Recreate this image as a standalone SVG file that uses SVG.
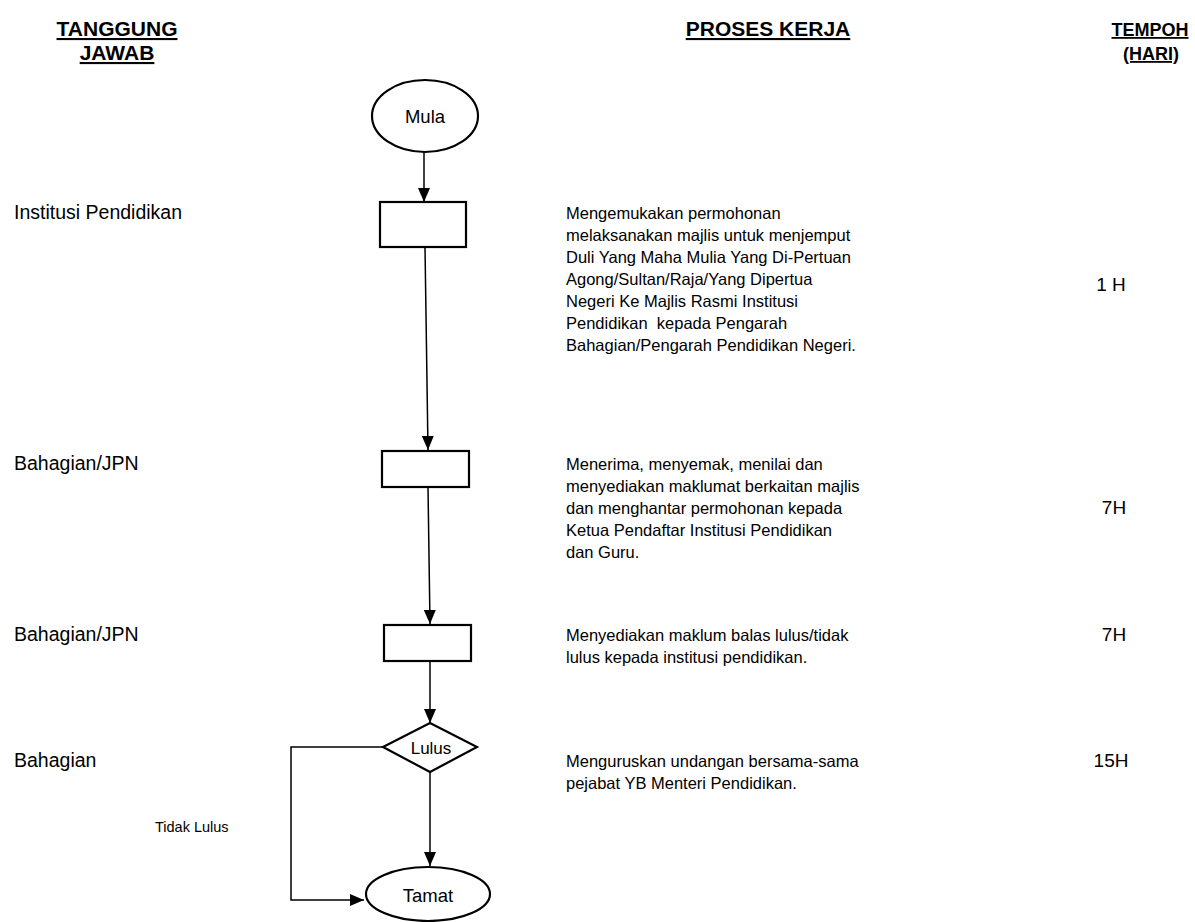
<svg xmlns="http://www.w3.org/2000/svg" width="1195" height="922" viewBox="0 0 1195 922">
<style>
text{font-family:"Liberation Sans",Arial,sans-serif;fill:#000}
.h{font-size:21px;font-weight:bold;text-decoration:underline;text-anchor:middle}
.h2{font-size:18px}
.l{font-size:19.5px}
.b{font-size:16.5px}
.t{font-size:19px;text-anchor:middle}
.s{font-size:14.5px}
.n{font-size:18.5px;text-anchor:middle}
.shape{fill:#fff;stroke:#000;stroke-width:2.2}
.conn{fill:none;stroke:#000;stroke-width:1.5}
</style>
<defs>
<marker id="ah" viewBox="0 0 14 12" refX="14" refY="6" markerWidth="14" markerHeight="12" markerUnits="userSpaceOnUse" orient="auto">
<path d="M0,0 L14,6 L0,12 z" fill="#000"/>
</marker>
</defs>
<rect width="1195" height="922" fill="#fff"/>
<g id="headers">
<text class="h" x="117" y="36">TANGGUNG</text>
<text class="h" x="117" y="60">JAWAB</text>
<text class="h" x="768" y="36">PROSES KERJA</text>
<text class="h h2" x="1150" y="36">TEMPOH</text>
<text class="h h2" x="1151" y="60">(HARI)</text>
</g>
<g id="connectors">
<line class="conn" x1="424" y1="152" x2="424" y2="202" marker-end="url(#ah)"/>
<line class="conn" x1="425" y1="247" x2="428" y2="450" marker-end="url(#ah)"/>
<line class="conn" x1="428" y1="487" x2="430" y2="624" marker-end="url(#ah)"/>
<line class="conn" x1="430" y1="661" x2="430" y2="723" marker-end="url(#ah)"/>
<line class="conn" x1="430" y1="772" x2="430" y2="866" marker-end="url(#ah)"/>
<path class="conn" d="M383,747 H291 V900 H364" marker-end="url(#ah)"/>
</g>
<g id="mula">
<ellipse class="shape" cx="425" cy="116" rx="53" ry="36"/>
<text class="n" x="425" y="123">Mula</text>
</g>
<g id="step1">
<rect class="shape" x="380" y="202" width="86" height="45"/>
</g>
<g id="step2">
<rect class="shape" x="382" y="451" width="87" height="36"/>
</g>
<g id="step3">
<rect class="shape" x="384" y="625" width="87" height="36"/>
</g>
<g id="lulus">
<polygon class="shape" points="383,747 430,723 477,747 430,772"/>
<text style="font-size:17px;text-anchor:middle" x="431" y="754">Lulus</text>
</g>
<g id="tamat">
<ellipse class="shape" cx="428" cy="894" rx="62" ry="27"/>
<text class="n" x="428" y="902">Tamat</text>
</g>
<g id="labels">
<text class="l" x="14" y="219">Institusi Pendidikan</text>
<text class="l" x="14" y="470">Bahagian/JPN</text>
<text class="l" x="14" y="641">Bahagian/JPN</text>
<text class="l" x="14" y="767">Bahagian</text>
<text class="s" x="155" y="832">Tidak Lulus</text>
</g>
<g id="proses">
<text class="b" x="566" y="219">Mengemukakan permohonan</text>
<text class="b" x="566" y="241">melaksanakan majlis untuk menjemput</text>
<text class="b" x="566" y="263">Duli Yang Maha Mulia Yang Di-Pertuan</text>
<text class="b" x="566" y="285">Agong/Sultan/Raja/Yang Dipertua</text>
<text class="b" x="566" y="307">Negeri Ke Majlis Rasmi Institusi</text>
<text class="b" x="566" y="329" xml:space="preserve">Pendidikan  kepada Pengarah</text>
<text class="b" x="566" y="351">Bahagian/Pengarah Pendidikan Negeri.</text>
<text class="b" x="566" y="470">Menerima, menyemak, menilai dan</text>
<text class="b" x="566" y="492">menyediakan maklumat berkaitan majlis</text>
<text class="b" x="566" y="514">dan menghantar permohonan kepada</text>
<text class="b" x="566" y="536">Ketua Pendaftar Institusi Pendidikan</text>
<text class="b" x="566" y="558">dan Guru.</text>
<text class="b" x="566" y="641">Menyediakan maklum balas lulus/tidak</text>
<text class="b" x="566" y="663">lulus kepada institusi pendidikan.</text>
<text class="b" x="566" y="767">Menguruskan undangan bersama-sama</text>
<text class="b" x="566" y="789">pejabat YB Menteri Pendidikan.</text>
</g>
<g id="tempoh">
<text class="t" x="1111" y="291">1 H</text>
<text class="t" x="1114" y="514">7H</text>
<text class="t" x="1114" y="641">7H</text>
<text class="t" x="1111" y="767">15H</text>
</g>
</svg>
